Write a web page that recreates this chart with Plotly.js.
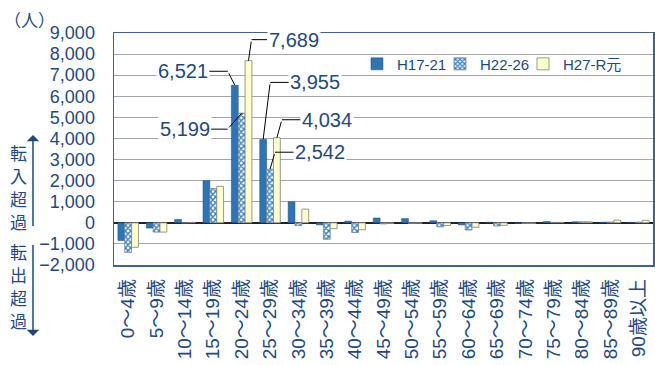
<!DOCTYPE html>
<html>
<head>
<meta charset="utf-8">
<script src="https://cdn.plot.ly/plotly-3.0.1.min.js"></script>
<style>html,body{margin:0;padding:0;background:#fff;}#chart{width:655px;height:365px;}</style>
</head>
<body>
<div id="chart"></div>
<script>
var categories = ['0～4歳','5～9歳','10～14歳','15～19歳','20～24歳','25～29歳','30～34歳','35～39歳','40～44歳','45～49歳','50～54歳','55～59歳','60～64歳','65～69歳','70～74歳','75～79歳','80～84歳','85～89歳','90歳以上'];
var seriesNames = ['H17-21','H22-26','H27-R元'];
var h17 = [-840, -250, 160, 2000, 6521, 3955, 1000, -100, 80, 230, 200, 100, -100, 30, -30, 60, 50, 30, 20];
var h22 = [-1400, -440, 0, 1620, 5199, 2542, -130, -780, -460, -50, -30, -190, -340, -150, -30, 20, 50, 40, 30];
var h27 = [-1160, -440, 20, 1730, 7689, 4034, 650, -280, -330, -30, -20, -130, -210, -120, -30, 20, 50, 130, 120];
var yTicks = [-2000,-1000,0,1000,2000,3000,4000,5000,6000,7000,8000,9000];
var unitLabel = '（人）';
var inLabel = ['転','入','超','過'];
var outLabel = ['転','出','超','過'];
// labelled points: [series index, category index, kneeDx, kneeDy, labelDx]
var labelled = [[0,4,-7,-14,-45],[1,4,-14,16,-43],[2,4,3,-21,42],[0,5,7,-57,45],[2,5,5,-18,45],[1,5,5,-17,45]];

var TXT = '#1F497D';
var FONT = 'Liberation Sans, Arial, Noto Sans CJK JP, sans-serif';
var JFONT = 'Noto Sans CJK JP, sans-serif';
var BARGAP = 0.275;
var all = [h17,h22,h27];

var traces = [
  {type:'bar', name:seriesNames[0], x:categories, y:h17, legend:'legend',
   marker:{color:'#2E75B6', line:{color:'#1F4E79', width:0.5}}},
  {type:'bar', name:seriesNames[1], x:categories, y:h22, legend:'legend2',
   marker:{color:'#ffffff', line:{color:'#7F7F7F', width:0.8},
     pattern:{shape:'x', fgcolor:'#2E7FD0', bgcolor:'#ffffff', size:4, solidity:0.6}}},
  {type:'bar', name:seriesNames[2], x:categories, y:h27, legend:'legend3',
   marker:{color:'#FFFFCC', line:{color:'#7F7F7F', width:0.8}}}
];

var annotations = [];
var step = (1 - BARGAP) / 3;
labelled.forEach(function(l){
  var s=l[0], c=l[1], val=all[s][c];
  var xx = c + (s-1)*step;
  annotations.push({x:xx, y:val, xref:'x', yref:'y', text:' ', font:{size:1},
    showarrow:true, arrowhead:0, arrowwidth:1, arrowcolor:'#000', ax:l[2], ay:l[3], standoff:0});
  annotations.push({x:xx, y:val, xref:'x', yref:'y', xshift:l[2], yshift:-l[3],
    text:val.toLocaleString('en-US'), font:{family:FONT, size:20, color:TXT},
    bgcolor:'#ffffff', borderpad:1,
    showarrow:true, arrowhead:0, arrowwidth:1, arrowcolor:'#000', ax:l[4], ay:0, standoff:0});
});
annotations.push({xref:'paper', yref:'paper', x:-0.156, y:1.06, xanchor:'center', yanchor:'middle',
  text:unitLabel, showarrow:false, font:{family:JFONT, size:17, color:TXT}});
function vtext(chars, x0, yTopPx){
  chars.forEach(function(ch, k){
    var py = yTopPx + k*23;
    annotations.push({xref:'paper', yref:'paper', x:x0, y:(265-py)/232, xanchor:'center', yanchor:'middle',
      text:ch, showarrow:false, font:{family:JFONT, size:17, color:TXT}});
  });
}
vtext(inLabel, -0.178, 152);
vtext(outLabel, -0.178, 251);
annotations.push({xref:'paper', yref:'paper', x:-0.1503, y:(265-135)/232, text:' ', font:{size:1},
  showarrow:true, arrowhead:1, arrowsize:1.4, arrowwidth:1.5, arrowcolor:TXT, ax:0, ay:93, standoff:0});
annotations.push({xref:'paper', yref:'paper', x:-0.1503, y:(265-336)/232, text:' ', font:{size:1},
  showarrow:true, arrowhead:1, arrowsize:1.4, arrowwidth:1.5, arrowcolor:TXT, ax:0, ay:-93, standoff:0});

function leg(xp){
  return {orientation:'h', x:xp, y:0.866, xanchor:'left', yanchor:'middle',
    bgcolor:'rgba(0,0,0,0)', borderwidth:0, font:{family:FONT, size:15, color:TXT}};
}

var layout = {
  width:655, height:365,
  margin:{l:114, r:2, t:33, b:100},
  paper_bgcolor:'#ffffff', plot_bgcolor:'#ffffff',
  barmode:'group', bargap:BARGAP, bargroupgap:0,
  showlegend:true,
  legend:leg(0.4508), legend2:leg(0.6048), legend3:leg(0.7588),
  shapes:[{type:'rect', xref:'paper', yref:'paper', x0:0.462, x1:0.981, y0:0.776, y1:0.948,
    fillcolor:'#ffffff', line:{width:0}, layer:'between'}],
  xaxis:{type:'category', tickangle:-90, ticks:'', ticklabelstandoff:5,
    tickfont:{family:FONT, size:19, color:TXT},
    showline:true, mirror:true, linecolor:'#3E6390', linewidth:1.5, showgrid:false, zeroline:false},
  yaxis:{range:[-2000,9000], tickvals:yTicks, tickformat:',d', ticks:'', ticklabelstandoff:14,
    tickfont:{family:FONT, size:18, color:TXT},
    showgrid:true, gridcolor:'#A6A6A6', gridwidth:1,
    zeroline:true, zerolinecolor:'#222222', zerolinewidth:2,
    showline:true, mirror:true, linecolor:'#3E6390', linewidth:1.5},
  annotations:annotations
};
Plotly.newPlot('chart', traces, layout, {displayModeBar:false, staticPlot:true});
</script>
</body>
</html>
